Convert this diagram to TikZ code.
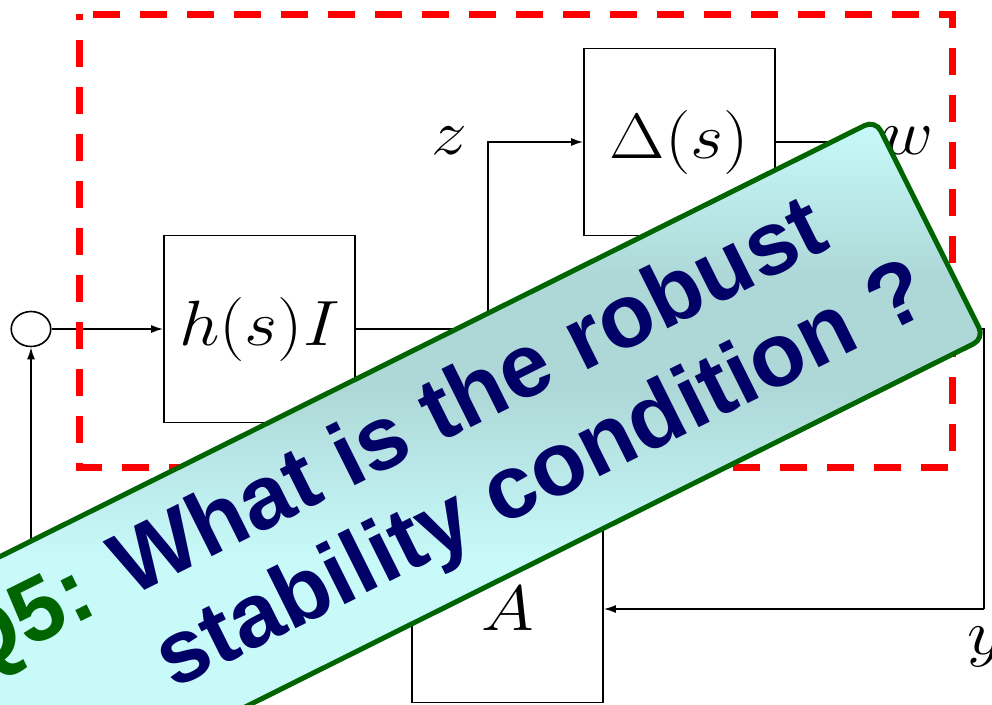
\RequirePackage{fix-cm}
\documentclass[tikz,border=0pt]{standalone}
\usepackage{fontspec}
\usepackage{xcolor}
\usetikzlibrary{arrows.meta}

\newfontfamily\bannerfont{Liberation Sans}
\newcommand{\bigmath}{\fontsize{64}{70}\selectfont}

% Colori
\definecolor{dashRed}{HTML}{FF0000}
\definecolor{qGreen}{HTML}{006400}
\definecolor{qNavy}{HTML}{000066}
\definecolor{bannerLight}{HTML}{C8FAFA}
\definecolor{bannerDark}{HTML}{AED8D8}

\pgfdeclareverticalshading{bannershade}{100bp}{color(0bp)=(bannerLight); color(25bp)=(bannerLight); color(44bp)=(bannerLight); color(56bp)=(bannerDark); color(64bp)=(bannerDark); color(75bp)=(bannerLight); color(100bp)=(bannerLight)}

\begin{document}
\begin{tikzpicture}[x=1pt, y=-1pt, line width=1.6pt,
  >={Latex[length=12pt,width=8pt]},
  blk/.style={draw, minimum width=170.5pt, minimum height=187pt, inner sep=0pt, xscale=1.12, font=\bigmath},
  sig/.style={inner sep=0pt, xscale=1.12, font=\bigmath},
  sumpt/.style={draw, circle, minimum size=35pt, inner sep=0pt, xscale=1.13},
  question/.style={align=right, text=qNavy, font=\bannerfont\bfseries\fontsize{90}{102}\selectfont}]

\useasboundingbox (0,0) rectangle (992,704);
\clip (0,0) rectangle (992,704);

% Blocchi
\node[sumpt] (sum) at (31,329) {};
\node[blk] (hI) at (259.5,329) {$h(s)I$};
\node[blk] (Delta) at (679.5,142) {$\Delta(s)$};
\node[blk] (A) at (507.5,609) {$A$};

% Punti di snodo
\coordinate (zsplit) at (488,329);
\coordinate (wturn) at (870,142);
\coordinate (wjoin) at (870,329);
\coordinate (yR) at (984,329);
\coordinate (yB) at (984,609);

% Collegamenti
\draw[->] (sum) -- (hI);
\draw (hI) -- (yR) -- (yB);
\draw[->] (yB) -- (A);
\draw[->] (zsplit) |- (Delta);
\draw (Delta) -- (wturn) -- (wjoin);
\draw[->] (A) -| (sum);

% Segnali
\node[sig] (zlab) at (449,141) {$z$};
\node[sig] (wlab) at (908,141) {$w$};
\node[sig] (ylab) at (986,647) {$y$};

% Riquadro tratteggiato
\draw[dashRed, line width=7pt, dash pattern=on 27pt off 20pt, dash phase=33pt]
  (79,14) -- (952,14) -- (952,467) -- (79,467) -- cycle;

% Fascia con la domanda
\begin{scope}[shift={(435,476)}, rotate=26.5]
  \coordinate (bNW) at (-553,-122);
  \coordinate (bNE) at (553,-122);
  \coordinate (bSE) at (553,122);
  \coordinate (bSW) at (-553,122);
\end{scope}
\shadedraw[shading=bannershade, draw=qGreen, line width=5pt, rounded corners=12pt]
  (bNW) -- (bNE) -- (bSE) -- (bSW) -- cycle;
\node[question, rotate=26.5] (q5) at (440,474)
  {\textcolor{qGreen}{Q5:} What is the robust\hspace*{0.7em}\\ stability condition ?};
\end{tikzpicture}
\end{document}
